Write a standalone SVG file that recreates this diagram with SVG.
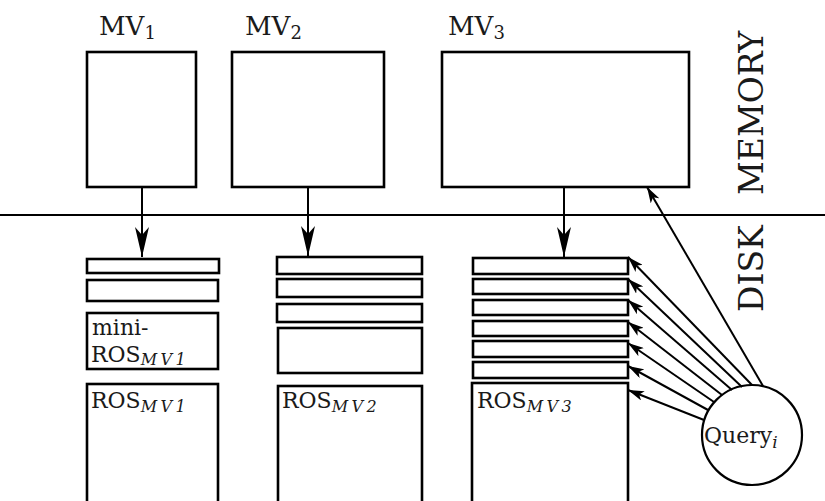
<svg xmlns="http://www.w3.org/2000/svg" width="825" height="501" viewBox="0 0 825 501">
<style>
  .box { fill: #fff; stroke: #000; stroke-width: 2.6; }
  .conn { fill: none; stroke: #000; stroke-width: 2; }
  text { font-family: 'DejaVu Serif', serif; fill: #1a1a1a; }
  .mv { font-size: 26px; }
  .st { font-size: 22px; }
  .sub { font-size: 18px; }
  .it { font-size: 16px; font-style: italic; letter-spacing: 3.5px; }
  .side { font-size: 33px; }
</style>
<defs>
  <marker id="bigArrow" markerUnits="userSpaceOnUse" viewBox="0 0 30 14" markerWidth="30" markerHeight="14" refX="30" refY="7" orient="auto">
    <path d="M0,0 L30,7 L0,14 L8,7 Z" fill="#000"/>
  </marker>
  <marker id="smallArrow" markerUnits="userSpaceOnUse" viewBox="0 0 16 10" markerWidth="16" markerHeight="10" refX="16" refY="5" orient="auto">
    <path d="M0,0 L16,5 L0,10 L4,5 Z" fill="#000"/>
  </marker>
</defs>
<rect width="825" height="501" fill="#fff"/>

<g id="divider">
  <line x1="0" y1="215" x2="825" y2="215" stroke="#000" stroke-width="2"/>
  <text class="side" transform="translate(763,195) rotate(-90)">MEMORY</text>
  <text class="side" transform="translate(763,312) rotate(-90)">DISK</text>
</g>

<g id="mv1">
  <rect class="box" x="87" y="52" width="109" height="135"/>
  <text class="mv" x="99" y="35">MV<tspan class="sub" dy="4">1</tspan></text>
</g>
<g id="mv2">
  <rect class="box" x="232" y="52" width="152" height="135"/>
  <text class="mv" x="245" y="35">MV<tspan class="sub" dy="4">2</tspan></text>
</g>
<g id="mv3">
  <rect class="box" x="442" y="52" width="247" height="135"/>
  <text class="mv" x="448" y="35">MV<tspan class="sub" dy="4">3</tspan></text>
</g>

<g id="stack1">
  <rect class="box" x="87" y="259" width="132" height="14"/>
  <rect class="box" x="87" y="280" width="131" height="21"/>
  <rect class="box" x="87" y="313" width="131" height="56"/>
  <text class="st" x="92" y="335">mini-</text>
  <text class="st" x="91" y="362">ROS<tspan class="it" dy="3">MV1</tspan></text>
</g>
<g id="ros1">
  <rect class="box" x="87" y="384" width="131" height="130"/>
  <text class="st" x="91" y="408">ROS<tspan class="it" dy="4">MV1</tspan></text>
</g>

<g id="stack2">
  <rect class="box" x="277" y="257" width="145" height="17"/>
  <rect class="box" x="277" y="279" width="145" height="18"/>
  <rect class="box" x="277" y="304" width="145" height="18"/>
  <rect class="box" x="278" y="328" width="144" height="45"/>
</g>
<g id="ros2">
  <rect class="box" x="278" y="386" width="144" height="130"/>
  <text class="st" x="282" y="408">ROS<tspan class="it" dy="4">MV2</tspan></text>
</g>

<g id="stack3">
  <rect class="box" x="473" y="258" width="155" height="16"/>
  <rect class="box" x="473" y="279" width="155" height="15"/>
  <rect class="box" x="473" y="300" width="155" height="15"/>
  <rect class="box" x="473" y="321" width="155" height="15"/>
  <rect class="box" x="473" y="341" width="155" height="16"/>
  <rect class="box" x="473" y="362" width="155" height="16"/>
</g>
<g id="ros3">
  <rect class="box" x="472" y="383" width="156" height="131"/>
  <text class="st" x="477" y="408">ROS<tspan class="it" dy="4">MV3</tspan></text>
</g>

<g id="query">
  <circle cx="752" cy="435" r="50" fill="#fff" stroke="#000" stroke-width="2.2"/>
  <text font-size="22" x="704" y="443">Query<tspan font-size="17" font-style="italic" dy="5">i</tspan></text>
</g>

<g id="connectors">
  <line class="conn" x1="142" y1="187" x2="142" y2="257" marker-end="url(#bigArrow)"/>
  <line class="conn" x1="308" y1="187" x2="308" y2="256" marker-end="url(#bigArrow)"/>
  <line class="conn" x1="564" y1="187" x2="564" y2="257" marker-end="url(#bigArrow)"/>
  <line class="conn" x1="763" y1="386" x2="647" y2="187" marker-end="url(#smallArrow)"/>
  <line class="conn" x1="752" y1="385" x2="628" y2="257" marker-end="url(#smallArrow)"/>
  <line class="conn" x1="742" y1="387" x2="628" y2="279" marker-end="url(#smallArrow)"/>
  <line class="conn" x1="732" y1="390" x2="628" y2="300" marker-end="url(#smallArrow)"/>
  <line class="conn" x1="722" y1="395" x2="628" y2="322" marker-end="url(#smallArrow)"/>
  <line class="conn" x1="714" y1="402" x2="628" y2="343" marker-end="url(#smallArrow)"/>
  <line class="conn" x1="708" y1="410" x2="628" y2="366" marker-end="url(#smallArrow)"/>
  <line class="conn" x1="704" y1="420" x2="628" y2="390" marker-end="url(#smallArrow)"/>
</g>
</svg>
